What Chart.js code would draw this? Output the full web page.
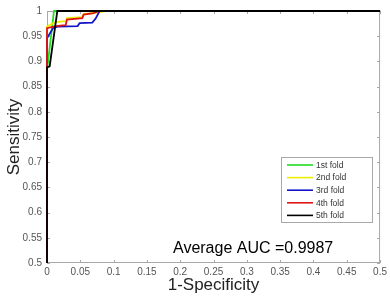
<!DOCTYPE html>
<html>
<head>
<meta charset="utf-8">
<script src="https://cdn.jsdelivr.net/npm/chart.js@4.4.1/dist/chart.umd.min.js"></script>
<style>
  html, body { margin: 0; padding: 0; background: #ffffff; }
  #wrap { width: 390px; height: 304px; }
</style>
</head>
<body>
<div id="wrap"><canvas id="roc"></canvas></div>
<script>
// ROC curves per fold (x = 1-specificity, y = sensitivity)
const foldLabels = ['1st fold', '2nd fold', '3rd fold', '4th fold', '5th fold'];
const foldColors = ['#22dd22', '#eeee00', '#1414c8', '#dd1414', '#000000'];

const fold1X = [0, 0, 0.0105, 0.5];
const fold1Y = [0.5, 0.882, 1, 1];

const fold2X = [0, 0, 0.008, 0.013, 0.028, 0.03, 0.053, 0.055, 0.07, 0.088, 0.5];
const fold2Y = [0.5, 0.969, 0.975, 0.978, 0.98, 0.986, 0.988, 0.994, 0.996, 1, 1];

const fold3X = [0, 0, 0.009, 0.016, 0.046, 0.049, 0.068, 0.073, 0.079, 0.5];
const fold3Y = [0.5, 0.946, 0.966, 0.969, 0.970, 0.976, 0.977, 0.985, 1, 1];

const fold4X = [0, 0, 0, 0.013, 0.028, 0.03, 0.053, 0.055, 0.07, 0.078, 0.5];
const fold4Y = [0.5, 0.89, 0.966, 0.97, 0.972, 0.983, 0.986, 0.993, 0.996, 1, 1];

const fold5X = [0, 0, 0.004, 0.0155, 0.5];
const fold5Y = [0.5, 0.888, 0.89, 1, 1];

const foldXs = [fold1X, fold2X, fold3X, fold4X, fold5X];
const foldYs = [fold1Y, fold2Y, fold3Y, fold4Y, fold5Y];

const aucText = 'Average AUC =0.9987';
const xTitle = '1-Specificity';
const yTitle = 'Sensitivity';

const FONT = '"Liberation Sans", Arial, sans-serif';
const AXIS_GRAY = '#a8a8a8';

// MATLAB-like box with inward ticks, legend inside the axes, AUC note
const boxPlugin = {
  id: 'box',
  beforeDatasetsDraw(chart) {
    const { ctx, chartArea: a, scales } = chart;
    ctx.save();
    ctx.strokeStyle = AXIS_GRAY;
    ctx.lineWidth = 1;
    ctx.strokeRect(a.left + 0.5, a.top + 0.5, a.right - a.left - 1, a.bottom - a.top - 1);
    ctx.beginPath();
    scales.x.ticks.forEach(t => {
      const px = Math.round(scales.x.getPixelForValue(t.value)) + 0.5;
      ctx.moveTo(px, a.bottom); ctx.lineTo(px, a.bottom - 3);
      ctx.moveTo(px, a.top); ctx.lineTo(px, a.top + 3);
    });
    scales.y.ticks.forEach(t => {
      const py = Math.round(scales.y.getPixelForValue(t.value)) + 0.5;
      ctx.moveTo(a.left, py); ctx.lineTo(a.left + 3, py);
      ctx.moveTo(a.right, py); ctx.lineTo(a.right - 3, py);
    });
    ctx.stroke();
    ctx.restore();
  },
  afterDraw(chart) {
    const { ctx } = chart;
    ctx.save();
    const bx = 281, by = 157, bw = 91, bh = 65;
    ctx.fillStyle = '#ffffff';
    ctx.fillRect(bx, by, bw, bh);
    ctx.strokeStyle = AXIS_GRAY;
    ctx.lineWidth = 1;
    ctx.strokeRect(bx + 0.5, by + 0.5, bw, bh);
    ctx.font = '8.5px ' + FONT;
    ctx.textBaseline = 'middle';
    ctx.textAlign = 'left';
    chart.data.datasets.forEach((ds, i) => {
      const y = by + 8 + i * 12.6;
      ctx.strokeStyle = ds.borderColor;
      ctx.lineWidth = 1.6;
      ctx.beginPath();
      ctx.moveTo(bx + 6, y); ctx.lineTo(bx + 32, y);
      ctx.stroke();
      ctx.fillStyle = '#333333';
      ctx.fillText(ds.label, bx + 35, y + 0.5);
    });
    ctx.fillStyle = '#000000';
    ctx.font = '16px ' + FONT;
    ctx.textBaseline = 'alphabetic';
    ctx.fillText(aucText, 173, 253);
    ctx.restore();
  }
};

const datasets = foldLabels.map((label, i) => ({
  label,
  data: foldXs[i].map((x, j) => ({ x, y: foldYs[i][j] })),
  borderColor: foldColors[i],
  backgroundColor: foldColors[i],
  borderWidth: 1.8,
  pointRadius: 0,
  tension: 0,
  fill: false,
  clip: false,
  order: foldLabels.length - i
}));

new Chart(document.getElementById('roc'), {
  type: 'line',
  data: { datasets },
  options: {
    responsive: true,
    maintainAspectRatio: false,
    animation: false,
    layout: { padding: { top: 6, right: 9, left: 0, bottom: 0 } },
    plugins: {
      legend: { display: false },
      tooltip: { enabled: false }
    },
    scales: {
      x: {
        type: 'linear',
        min: 0,
        max: 0.5,
        afterFit: s => { s.height = 41; },
        border: { display: false },
        grid: { display: false, drawTicks: false },
        ticks: {
          stepSize: 0.05,
          padding: 3,
          color: '#555555',
          font: { size: 10, family: FONT },
          maxRotation: 0,
          autoSkip: false,
          callback: v => +v.toFixed(2) + ''
        },
        title: {
          display: true,
          text: xTitle,
          color: '#222222',
          font: { size: 17, family: FONT },
          padding: { bottom: 8, top: 0 }
        }
      },
      y: {
        type: 'linear',
        min: 0.5,
        max: 1,
        afterFit: s => { s.width = 47; },
        border: { display: false },
        grid: { display: false, drawTicks: false },
        ticks: {
          stepSize: 0.05,
          padding: 5,
          color: '#555555',
          font: { size: 10, family: FONT },
          autoSkip: false,
          callback: v => +v.toFixed(2) + ''
        },
        title: {
          display: true,
          text: yTitle,
          color: '#222222',
          font: { size: 17, family: FONT },
          padding: { top: 4, bottom: 0 }
        }
      }
    }
  },
  plugins: [boxPlugin]
});
</script>
</body>
</html>
